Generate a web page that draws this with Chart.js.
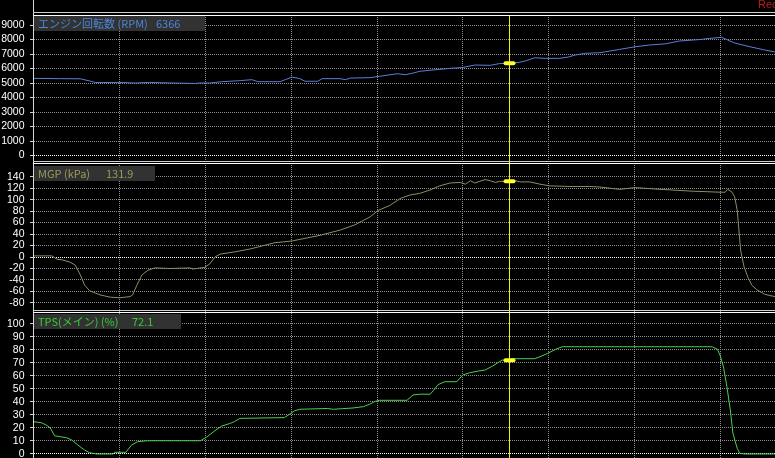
<!DOCTYPE html>
<html>
<head>
<meta charset="utf-8">
<script src="https://cdn.jsdelivr.net/npm/chart.js@4.4.1/dist/chart.umd.min.js"></script>
<style>
  html, body { margin: 0; padding: 0; background: #000; }
  #wrap { position: relative; width: 775px; height: 458px; overflow: hidden; background: #000; }
  canvas { position: absolute; left: 0; }
  .sep { position: absolute; left: 33px; right: 0; height: 1px; }
  .axis { position: absolute; left: 33px; top: 0; width: 1px; height: 458px; background: #d8d8d8; }
  .tag { position: absolute; left: 34px; height: 15px; background: #323232; white-space: nowrap;
         font: 11px 'Noto Sans CJK JP', 'Noto Sans', sans-serif; line-height: 15px; }
  .tag span { position: absolute; top: 0; }
  #rec { position: absolute; left: 758px; top: -2px; color: #c41a1a; font: 11px 'Liberation Sans', sans-serif; }
</style>
</head>
<body>
<div id="wrap">
  <canvas id="rpmChart" width="775" height="146" style="top:15px"></canvas>
  <canvas id="mgpChart" width="775" height="150" style="top:161px"></canvas>
  <canvas id="tpsChart" width="775" height="147" style="top:311px"></canvas>
  <div class="axis"></div>
  <div class="sep" style="top:12px;background:#cfcfcf"></div>
  <div class="sep" style="top:15px;background:#ffffff"></div>
  <div class="sep" style="top:161px;background:#cfcfcf"></div>
  <div class="sep" style="top:163px;background:#ffffff"></div>
  <div class="sep" style="top:310px;background:#cfcfcf"></div>
  <div class="sep" style="top:312px;background:#ffffff"></div>
  <div id="rec">Rec</div>
</div>
<script>
// Logger view: engine speed, boost (MGP) and throttle (TPS) against time (s)

// Cursor position and the values read at it
const cursorTime = 5.54;
const cursorValues = [6366, 131.9, 72.1];
const cursorLabels = ['6366', '131.9', '72.1'];

// Vertical grid every second
const timeGrid = [1, 2, 3, 4, 5, 6, 7, 8];

// Engine speed (RPM)
const rpmTicks = [0, 1000, 2000, 3000, 4000, 5000, 6000, 7000, 8000, 9000];
const rpmTime = [0.00, 0.30, 0.54, 0.65, 0.72, 1.00, 1.18, 1.35, 1.47, 1.70, 1.88, 1.94, 2.05, 2.19, 2.40, 2.54, 2.61,
  2.87, 2.93, 3.01, 3.10, 3.16, 3.31, 3.36, 3.57, 3.63, 3.69, 3.92, 4.03, 4.15, 4.24, 4.33, 4.41, 4.50, 4.73, 4.85,
  5.00, 5.14, 5.32, 5.43, 5.54, 5.66, 5.73, 5.84, 5.96, 6.13, 6.23, 6.31, 6.43, 6.60, 6.83, 7.01, 7.18, 7.36, 7.53,
  7.77, 7.88, 8.02, 8.17, 8.35, 8.52, 8.64];
const rpmValues = [5320, 5300, 5290, 5140, 5030, 5040, 5000, 5040, 5020, 4990, 4970, 5000, 5000, 5090, 5160, 5230, 5090,
  5090, 5230, 5410, 5300, 5120, 5120, 5300, 5300, 5230, 5340, 5370, 5460, 5570, 5640, 5570, 5670, 5810, 5940, 6010,
  6070, 6240, 6220, 6340, 6366, 6430, 6520, 6740, 6700, 6700, 6790, 6930, 7050, 7090, 7320, 7500, 7620, 7700, 7900,
  8000, 8080, 8150, 7760, 7500, 7280, 7140];

// Manifold gauge pressure (kPa)
const mgpTicks = [-80, -60, -40, -20, 0, 20, 40, 60, 80, 100, 120, 140];
const mgpTime = [0.00, 0.21, 0.27, 0.33, 0.42, 0.48, 0.54, 0.59, 0.65, 0.77, 0.89, 1.00, 1.12, 1.15, 1.20, 1.26, 1.33,
  1.41, 1.59, 1.82, 1.85, 1.99, 2.05, 2.11, 2.17, 2.34, 2.52, 2.81, 3.01, 3.34, 3.57, 3.74, 3.92, 4.01, 4.15, 4.27,
  4.38, 4.50, 4.62, 4.73, 4.85, 4.97, 5.03, 5.09, 5.14, 5.20, 5.26, 5.32, 5.38, 5.43, 5.54, 5.61, 5.67, 5.78, 5.90,
  6.02, 6.25, 6.48, 6.60, 6.83, 7.01, 7.30, 7.65, 8.00, 8.06, 8.09, 8.14, 8.17, 8.20, 8.22, 8.24, 8.28, 8.33, 8.37,
  8.43, 8.52, 8.64];
const mgpValues = [2, 2, -4, -5, -9, -14, -31, -49, -59, -66, -70, -71, -69, -66, -49, -31, -23,
  -19, -20, -19, -21, -18, -12, 0, 5, 9, 14, 25, 28, 38, 47, 56, 70, 81, 90, 102,
  108, 111, 117, 124, 129, 130, 127, 133, 129, 132, 135, 133, 130, 132, 131.9, 133, 131, 131, 127,
  124, 123, 123, 122, 118, 121, 118, 115, 113, 113, 118, 113, 105, 82, 47, 12, -17, -37, -49,
  -57, -65, -69];

// Throttle position, main (%)
const tpsTicks = [0, 10, 20, 30, 40, 50, 60, 70, 80, 90, 100];
const tpsTime = [0.00, 0.09, 0.15, 0.19, 0.24, 0.38, 0.44, 0.51, 0.59, 0.65, 0.73, 0.92, 0.94, 1.07, 1.14, 1.21, 1.32,
  1.94, 2.02, 2.11, 2.19, 2.29, 2.34, 2.40, 2.92, 2.99, 3.04, 3.10, 3.36, 3.42, 3.49, 3.60, 3.72, 3.84, 3.92, 3.98,
  4.03, 4.35, 4.42, 4.50, 4.62, 4.68, 4.71, 4.79, 4.93, 5.00, 5.08, 5.18, 5.26, 5.35, 5.46, 5.54, 5.58, 5.84, 5.90,
  5.99, 6.08, 6.16, 7.91, 7.97, 8.00, 8.04, 8.08, 8.12, 8.15, 8.20, 8.23, 8.29, 8.64];
const tpsValues = [24.8, 24, 22, 20, 14, 12.5, 10.8, 7, 3, 1, 0, 0, 1.3, 1.3, 7, 9.5, 10.2,
  10.2, 13.3, 18, 21.5, 23.6, 25, 27.4, 28, 31, 33.3, 34.4, 34.9, 35, 34.4, 34.9, 35.4, 36.4, 38.5, 40.5,
  41.3, 41.3, 45.4, 46, 46, 50.5, 53.3, 55.6, 55.6, 60.8, 62.5, 63.8, 64.6, 67.7, 72.3, 72.1, 73.3, 73.3, 74.8,
  77.4, 80.5, 82.5, 82.5, 80.5, 76, 67, 51.8, 33.8, 16, 4.4, 0.5, 0, 0];

// Yellow cursor line with a small marker on the trace
const cursorPlugin = {
  id: 'cursor',
  afterDatasetsDraw(chart, args, opts) {
    const { ctx, chartArea, scales } = chart;
    const x = Math.round(scales.x.getPixelForValue(cursorTime));
    ctx.save();
    ctx.fillStyle = '#f0f000';
    ctx.fillRect(x, chartArea.top, 1, chartArea.bottom - chartArea.top);
    const y = scales.y.getPixelForValue(opts.value);
    ctx.fillStyle = '#ffff2a';
    ctx.beginPath();
    ctx.roundRect(x - 5.5, y - 2, 12, 4, 2);
    ctx.fill();
    ctx.restore();
  }
};

function createPanel(canvasId, p) {
  const ctx = document.getElementById(canvasId);
  if (!ctx) return null;

  return new Chart(ctx, {
    type: 'line',
    data: {
      datasets: [{
        data: p.time.map((t, i) => ({ x: t, y: p.values[i] })),
        borderColor: p.color,
        borderWidth: 1,
        pointRadius: 0,
        tension: 0,
        fill: false
      }]
    },
    options: {
      responsive: false,
      animation: false,
      events: [],
      layout: { padding: 0 },
      plugins: {
        legend: { display: false },
        tooltip: { enabled: false },
        cursor: { value: p.cursor }
      },
      scales: {
        x: {
          type: 'linear',
          min: 0,
          max: 8.641,
          afterBuildTicks: s => { s.ticks = timeGrid.map(v => ({ value: v })); },
          afterFit: s => { s.height = 0; s.paddingLeft = 0; s.paddingRight = 0; },
          ticks: { display: false },
          grid: { color: '#8e8e8e', drawTicks: false },
          border: { display: false, dash: [1, 1] }
        },
        y: {
          min: p.min,
          max: p.max,
          afterBuildTicks: s => { s.ticks = p.ticks.map(v => ({ value: v })); },
          afterFit: s => { s.width = 34; s.paddingTop = 0; s.paddingBottom = 0; },
          ticks: {
            color: '#ffffff',
            autoSkip: false,
            padding: 1.5,
            callback: v => String(v),
            font: { family: "'Liberation Sans', sans-serif", size: 10.5 }
          },
          grid: {
            color: c => (c.tick && c.tick.value === 0 ? '#ffffff' : '#8e8e8e'),
            tickColor: '#d0d0d0',
            tickLength: 8,
            tickBorderDash: [0, 4, 3, 40]
          },
          border: { display: false, dash: [1, 1] }
        }
      }
    },
    plugins: [cursorPlugin]
  });
}

// Title box above each trace
function addTag(top, width, color, label, valueLeft, value) {
  const tag = document.createElement('div');
  tag.className = 'tag';
  tag.style.top = top + 'px';
  tag.style.width = width + 'px';
  tag.style.color = color;
  tag.innerHTML = `<span style="left:4px">${label}</span><span style="left:${valueLeft}px">${value}</span>`;
  document.getElementById('wrap').appendChild(tag);
}

createPanel('rpmChart', { time: rpmTime, values: rpmValues, ticks: rpmTicks, min: -379, max: 9690, color: '#5a7fd8', cursor: cursorValues[0] });
createPanel('mgpChart', { time: mgpTime, values: mgpValues, ticks: mgpTicks, min: -94.1, max: 167.4, color: '#8e8e66', cursor: cursorValues[1] });
createPanel('tpsChart', { time: tpsTime, values: tpsValues, ticks: tpsTicks, min: -3.08, max: 110, color: '#4ccf4c', cursor: cursorValues[2] });

addTag(16, 171, '#4a86d8', 'エンジン回転数 (RPM)', 122, cursorLabels[0]);
addTag(166, 121, '#9a9a5a', 'MGP (kPa)', 72, cursorLabels[1]);
addTag(314, 147, '#36cc36', 'TPS(メイン) (%)', 98, cursorLabels[2]);
</script>
</body>
</html>
